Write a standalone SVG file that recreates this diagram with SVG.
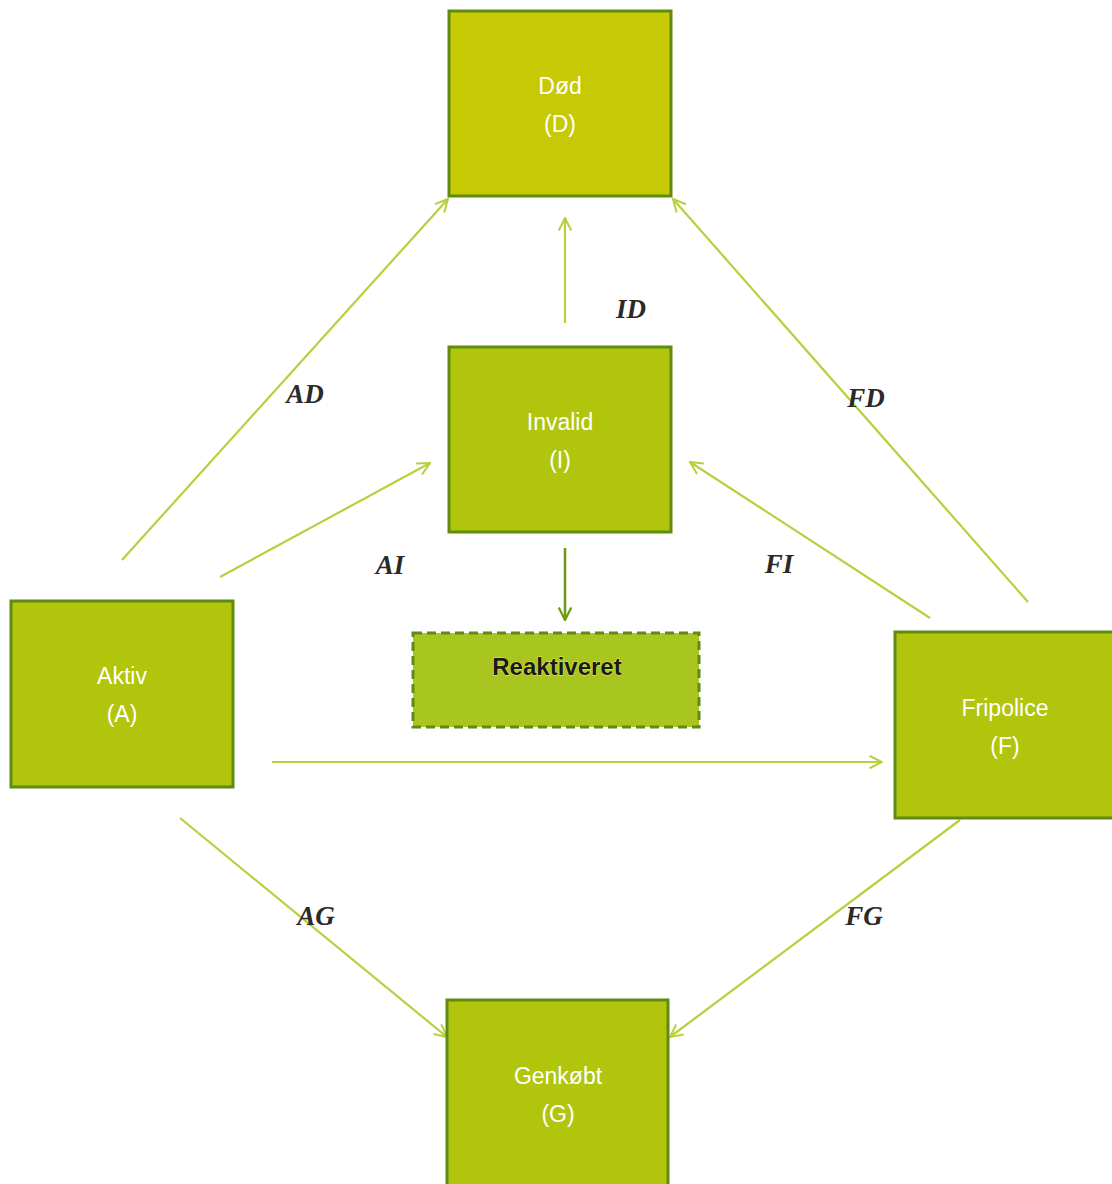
<svg xmlns="http://www.w3.org/2000/svg" width="1112" height="1184" viewBox="0 0 1112 1184">
<style>
.box{fill:#b1c50c;stroke:#5f8b12;stroke-width:3}
.dead{fill:#c6c904}
.dash{fill:#a9c520;stroke:#5f8b12;stroke-width:3;stroke-dasharray:9 5}
.t{font-family:"Liberation Sans",sans-serif;font-size:23px;fill:#ffffff;text-anchor:middle}
.r{font-family:"Liberation Sans",sans-serif;font-size:24px;font-weight:bold;fill:#1a1a1a;text-anchor:middle;stroke:#e6f040;stroke-width:1;paint-order:stroke}
.c{stroke:#b8cf3e;stroke-width:2.2;fill:none;marker-end:url(#ah)}
.cd{stroke:#6e9a1a;stroke-width:2.6;fill:none;marker-end:url(#ahd)}
.l{font-family:"Liberation Serif",serif;font-style:italic;font-weight:bold;font-size:27px;fill:#2a2a2a;text-anchor:middle}
</style>
<defs>
<marker id="ah" viewBox="0 0 12 12" refX="11" refY="6" markerWidth="15" markerHeight="15" orient="auto" markerUnits="userSpaceOnUse">
<path d="M1,1 L11,6 L1,11" fill="none" stroke="#b8cf3e" stroke-width="1.6"/>
</marker>
<marker id="ahd" viewBox="0 0 12 12" refX="11" refY="6" markerWidth="15" markerHeight="15" orient="auto" markerUnits="userSpaceOnUse">
<path d="M1,1 L11,6 L1,11" fill="none" stroke="#6e9a1a" stroke-width="1.8"/>
</marker>
</defs>
<rect width="1112" height="1184" fill="#ffffff"/>
<g id="connectors">
<line class="c" x1="122" y1="560" x2="448" y2="199"/>
<line class="c" x1="565" y1="323" x2="565" y2="218"/>
<line class="c" x1="1028" y1="602" x2="673" y2="199"/>
<line class="c" x1="220" y1="577" x2="430" y2="463"/>
<line class="c" x1="930" y1="618" x2="690" y2="462"/>
<line class="cd" x1="565" y1="548" x2="565" y2="620"/>
<line class="c" x1="272" y1="762" x2="882" y2="762"/>
<line class="c" x1="180" y1="818" x2="447" y2="1037"/>
<line class="c" x1="960" y1="820" x2="670" y2="1037"/>
<text class="l" x="305" y="403">AD</text>
<text class="l" x="631" y="318">ID</text>
<text class="l" x="866" y="407">FD</text>
<text class="l" x="390" y="574">AI</text>
<text class="l" x="779" y="573">FI</text>
<text class="l" x="316" y="925">AG</text>
<text class="l" x="864" y="925">FG</text>
</g>
<g id="node-D">
<rect class="box dead" x="449" y="11" width="222" height="185"/>
<text class="t" x="560" y="94">Død</text>
<text class="t" x="560" y="132">(D)</text>
</g>
<g id="node-I">
<rect class="box" x="449" y="347" width="222" height="185"/>
<text class="t" x="560" y="430">Invalid</text>
<text class="t" x="560" y="468">(I)</text>
</g>
<g id="node-R">
<rect class="dash" x="413" y="633" width="286" height="94"/>
<text class="r" x="557" y="675">Reaktiveret</text>
</g>
<g id="node-A">
<rect class="box" x="11" y="601" width="222" height="186"/>
<text class="t" x="122" y="684">Aktiv</text>
<text class="t" x="122" y="722">(A)</text>
</g>
<g id="node-F">
<rect class="box" x="895" y="632" width="222" height="186"/>
<text class="t" x="1005" y="716">Fripolice</text>
<text class="t" x="1005" y="754">(F)</text>
</g>
<g id="node-G">
<rect class="box" x="447" y="1000" width="221" height="190"/>
<text class="t" x="558" y="1084">Genkøbt</text>
<text class="t" x="558" y="1122">(G)</text>
</g>
</svg>
